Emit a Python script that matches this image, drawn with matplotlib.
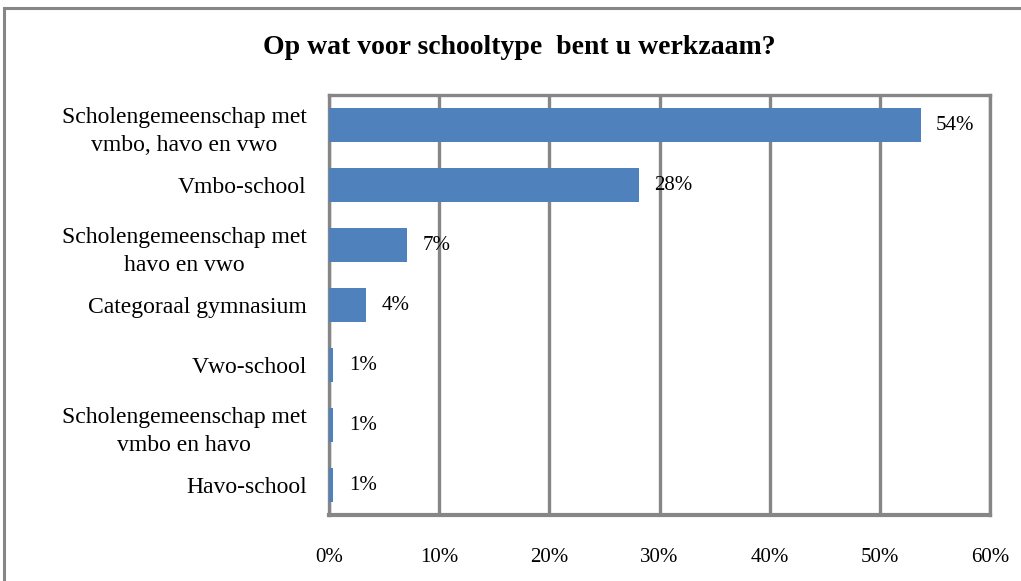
import matplotlib
matplotlib.use("Agg")
import matplotlib.pyplot as plt
from matplotlib.patches import Rectangle

categories = [
    "Scholengemeenschap met\nvmbo, havo en vwo",
    "Vmbo-school",
    "Scholengemeenschap met\nhavo en vwo",
    "Categoraal gymnasium",
    "Vwo-school",
    "Scholengemeenschap met\nvmbo en havo",
    "Havo-school",
]
values = [53.7, 28.1, 7.1, 3.4, 0.4, 0.4, 0.4]
value_labels = ["54%", "28%", "7%", "4%", "1%", "1%", "1%"]
x_ticks = [0, 10, 20, 30, 40, 50, 60]
x_tick_labels = ["0%", "10%", "20%", "30%", "40%", "50%", "60%"]
title = "Op wat voor schooltype  bent u werkzaam?"

plt.rcParams['font.family'] = ['Liberation Serif', 'DejaVu Serif']

fig = plt.figure(figsize=(10.21, 5.81), dpi=100)
fig.patches.append(Rectangle((4/1021, -0.1), 1.2, 1 - 8/581 + 0.1, transform=fig.transFigure,
                             fill=False, edgecolor="#868686", linewidth=2.2))

ax = fig.add_axes([329/1021, 1 - 515/581, 661/1021, 420/581])
grey = "#868686"
ypos = list(range(len(categories)))
ax.barh(ypos, values, height=0.58, color="#4F81BD", zorder=3)
ax.set_ylim(len(categories) - 0.5, -0.5)
ax.set_xlim(0, 60)
ax.set_xticks(x_ticks)
ax.set_xticklabels(x_tick_labels, fontsize=15)
ax.set_yticks(ypos)
ax.set_yticklabels(categories, fontsize=17, ha="right", multialignment="center", linespacing=1.45)
ax.tick_params(axis="y", length=0, pad=16)
ax.tick_params(axis="x", length=0, pad=24)
ax.grid(axis="x", color=grey, linewidth=2.4, zorder=1)
for s in ax.spines.values():
    s.set_color(grey)
    s.set_linewidth(2.4)
ax.spines["bottom"].set_linewidth(3)

for y, v, lab in zip(ypos, values, value_labels):
    ax.annotate(lab, (v, y), xytext=(11, 0), textcoords="offset points",
                va="center", ha="left", fontsize=15, zorder=4)

fig.text(519.5/1021, 1 - 48/581, title, ha="center", va="center", fontsize=20, fontweight="bold")

fig.savefig("out.png", dpi=100)
